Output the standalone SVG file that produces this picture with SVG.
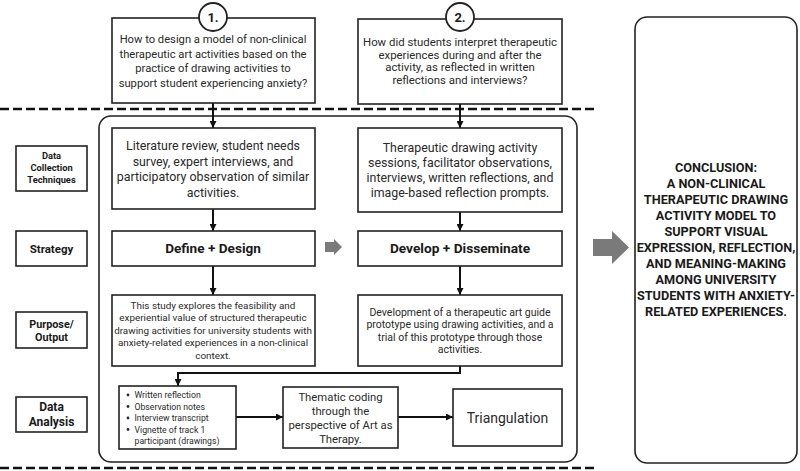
<svg xmlns="http://www.w3.org/2000/svg" width="800" height="471" viewBox="0 0 800 471">
<defs>
<marker id="ah" viewBox="0 0 10 10" refX="10" refY="5" markerWidth="7" markerHeight="7" markerUnits="userSpaceOnUse" orient="auto"><path d="M0,0 L10,5 L0,10 z" fill="#111"/></marker>
<style>
.bx{fill:#fff;stroke:#222;stroke-width:1.6}
.t{font-family:Roboto,"Liberation Sans",sans-serif;fill:#2a2a2a;text-anchor:middle}
.b{font-family:Roboto,"Liberation Sans",sans-serif;font-weight:bold;fill:#1a1a1a;text-anchor:middle}
.c{fill:none;stroke:#111;stroke-width:2;marker-end:url(#ah)}
.d{stroke:#111;stroke-width:2.6;stroke-dasharray:9 4}
.g{fill:#7a7a7a}
</style>
</defs>
<rect width="800" height="471" fill="#fff"/>
<g id="dividers">
<line class="d" x1="0" y1="109" x2="596" y2="109"/>
<line class="d" x1="0" y1="468" x2="596" y2="468"/>
</g>
<g id="frame"><rect x="99" y="116" width="478" height="346" rx="12" fill="none" stroke="#222" stroke-width="1.6"/></g>
<g id="connectors">
<line class="c" x1="213" y1="103" x2="213" y2="128"/>
<line class="c" x1="460" y1="104" x2="460" y2="128"/>
<line class="c" x1="213" y1="209" x2="213" y2="231"/>
<line class="c" x1="460" y1="212" x2="460" y2="231"/>
<line class="c" x1="213" y1="266" x2="213" y2="295"/>
<line class="c" x1="460" y1="266" x2="460" y2="295"/>
<path class="c" d="M460,366 V373 H178 V386"/>
<line class="c" x1="236" y1="417" x2="283" y2="417"/>
<line class="c" x1="398" y1="417" x2="453" y2="417"/>
<path class="g" d="M325,242 H334 V239 L342,247 L334,255 V252 H325 z"/>
<path class="g" d="M593,239 H612 V231 L629,247.5 L612,264 V256 H593 z"/>
</g>
<g id="q1">
<rect class="bx" x="112" y="18" width="203" height="85"/>
<circle cx="213" cy="17" r="14" fill="#fff" stroke="#222" stroke-width="1.8"/>
<text class="b" x="213" y="22" font-size="13">1.</text>
<text class="t" font-size="11.2"><tspan x="213" y="43">How to design a model of non-clinical</tspan><tspan x="213" y="57.5">therapeutic art activities based on the</tspan><tspan x="213" y="72">practice of drawing activities to</tspan><tspan x="213" y="86.5">support student experiencing anxiety?</tspan></text>
</g>
<g id="q2">
<rect class="bx" x="358" y="19" width="204" height="85"/>
<circle cx="460" cy="17" r="14" fill="#fff" stroke="#222" stroke-width="1.8"/>
<text class="b" x="460" y="22" font-size="13">2.</text>
<text class="t" font-size="11.4"><tspan x="460" y="46">How did students interpret therapeutic</tspan><tspan x="460" y="58.5">experiences during and after the</tspan><tspan x="460" y="71">activity, as reflected in written</tspan><tspan x="460" y="83.5">reflections and interviews?</tspan></text>
</g>
<g id="lbl-dct">
<rect class="bx" x="16" y="146" width="71" height="45"/>
<text class="b" font-size="9.3"><tspan x="51.5" y="159">Data</tspan><tspan x="51.5" y="171">Collection</tspan><tspan x="51.5" y="183">Techniques</tspan></text>
</g>
<g id="lbl-strategy">
<rect class="bx" x="16" y="231" width="71" height="35"/>
<text class="b" x="51.5" y="252.5" font-size="11.5">Strategy</text>
</g>
<g id="lbl-purpose">
<rect class="bx" x="16" y="312" width="71" height="36"/>
<text class="b" font-size="10.8"><tspan x="51.5" y="328">Purpose/</tspan><tspan x="51.5" y="341">Output</tspan></text>
</g>
<g id="lbl-analysis">
<rect class="bx" x="16" y="397" width="71" height="35"/>
<text class="b" font-size="12"><tspan x="51.5" y="411">Data</tspan><tspan x="51.5" y="426">Analysis</tspan></text>
</g>
<g id="lit">
<rect class="bx" x="112" y="128" width="203" height="81"/>
<text class="t" font-size="12.4"><tspan x="213" y="149.5">Literature review, student needs</tspan><tspan x="213" y="165.5">survey, expert interviews, and</tspan><tspan x="213" y="181">participatory observation of similar</tspan><tspan x="213" y="196.5">activities.</tspan></text>
</g>
<g id="ther">
<rect class="bx" x="358" y="128" width="204" height="84"/>
<text class="t" font-size="12.4"><tspan x="460" y="152">Therapeutic drawing activity</tspan><tspan x="460" y="166.5">sessions, facilitator observations,</tspan><tspan x="460" y="182">interviews, written reflections, and</tspan><tspan x="460" y="197">image-based reflection prompts.</tspan></text>
</g>
<g id="define">
<rect class="bx" x="112" y="231" width="203" height="35"/>
<text class="b" x="213" y="253" font-size="13.6">Define + Design</text>
</g>
<g id="develop">
<rect class="bx" x="358" y="231" width="204" height="35"/>
<text class="b" x="460" y="253" font-size="13.7">Develop + Disseminate</text>
</g>
<g id="purpose1">
<rect class="bx" x="112" y="295" width="203" height="71"/>
<text class="t" font-size="9.9"><tspan x="213" y="308.5">This study explores the feasibility and</tspan><tspan x="213" y="321">experiential value of structured therapeutic</tspan><tspan x="213" y="333.5">drawing activities for university students with</tspan><tspan x="213" y="346">anxiety-related experiences in a non-clinical</tspan><tspan x="213" y="358.5">context.</tspan></text>
</g>
<g id="purpose2">
<rect class="bx" x="358" y="295" width="204" height="71"/>
<text class="t" font-size="10.5"><tspan x="460" y="315.5">Development of a therapeutic art guide</tspan><tspan x="460" y="328">prototype using drawing activities, and a</tspan><tspan x="460" y="340.5">trial of this prototype through those</tspan><tspan x="460" y="353">activities.</tspan></text>
</g>
<g id="sources">
<rect class="bx" x="119" y="386" width="117" height="63"/>
<g font-family="Roboto,'Liberation Sans',sans-serif" font-size="8.7" fill="#2a2a2a">
<circle cx="128" cy="395" r="1.4" fill="#2a2a2a"/><text x="134.5" y="398">Written reflection</text>
<circle cx="128" cy="406.5" r="1.4" fill="#2a2a2a"/><text x="134.5" y="409.5">Observation notes</text>
<circle cx="128" cy="418" r="1.4" fill="#2a2a2a"/><text x="134.5" y="421">Interview transcript</text>
<circle cx="128" cy="429.5" r="1.4" fill="#2a2a2a"/><text x="134.5" y="432.5">Vignette of track 1</text>
<text x="134.5" y="444">participant (drawings)</text>
</g>
</g>
<g id="thematic">
<rect class="bx" x="283" y="387" width="115" height="61"/>
<text class="t" font-size="11.3"><tspan x="340.5" y="401">Thematic coding</tspan><tspan x="340.5" y="415">through the</tspan><tspan x="340.5" y="429">perspective of Art as</tspan><tspan x="340.5" y="443">Therapy.</tspan></text>
</g>
<g id="triang">
<rect class="bx" x="453" y="389" width="109" height="57"/>
<text class="t" x="507.5" y="423" font-size="14">Triangulation</text>
</g>
<g id="conclusion">
<rect class="bx" x="635" y="17" width="162" height="446" rx="12"/>
<text class="b" font-size="12.7"><tspan x="716" y="172">CONCLUSION:</tspan><tspan x="716" y="188">A NON-CLINICAL</tspan><tspan x="716" y="204">THERAPEUTIC DRAWING</tspan><tspan x="716" y="220">ACTIVITY MODEL TO</tspan><tspan x="716" y="236">SUPPORT VISUAL</tspan><tspan x="716" y="252">EXPRESSION, REFLECTION,</tspan><tspan x="716" y="268">AND MEANING-MAKING</tspan><tspan x="716" y="284">AMONG UNIVERSITY</tspan><tspan x="716" y="300">STUDENTS WITH ANXIETY-</tspan><tspan x="716" y="316">RELATED EXPERIENCES.</tspan></text>
</g>
</svg>
